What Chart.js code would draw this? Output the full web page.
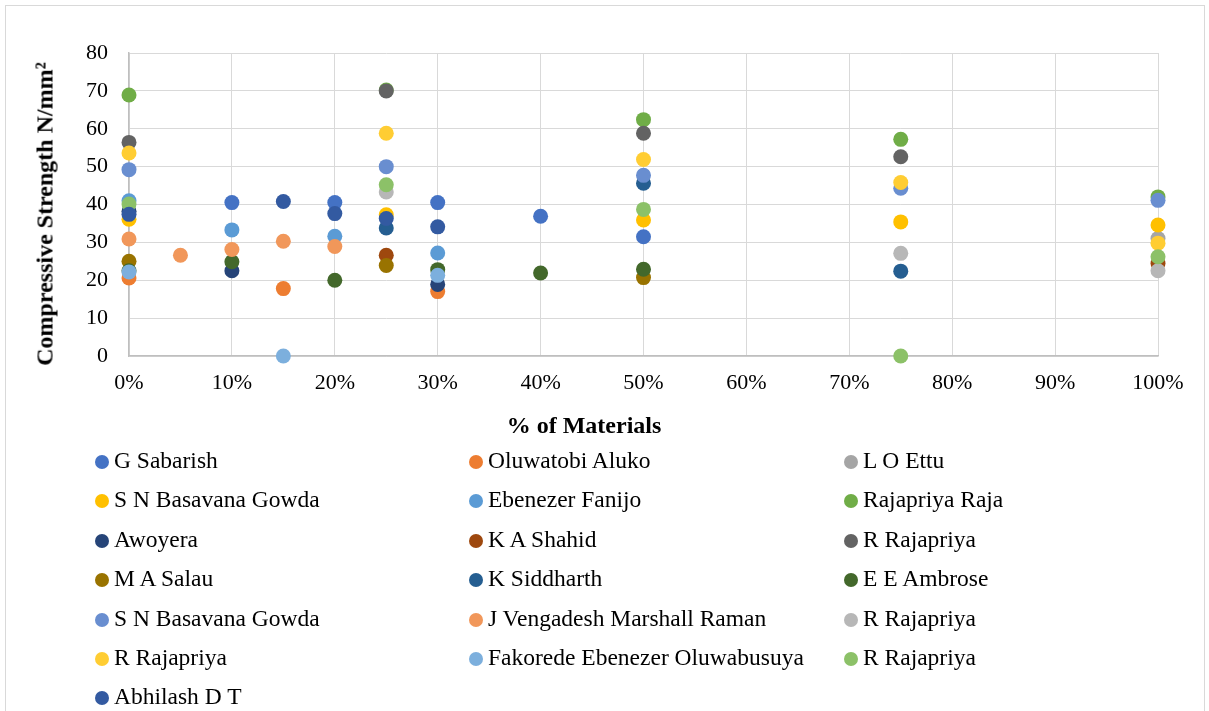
<!DOCTYPE html>
<html>
<head>
<meta charset="utf-8">
<title>Compressive Strength vs % of Materials</title>
<script src="https://cdn.jsdelivr.net/npm/chart.js@4.4.1/dist/chart.umd.min.js"></script>
<style>
  html, body { margin: 0; padding: 0; background: #fff; }
  #wrap { position: relative; width: 1209px; height: 711px; overflow: hidden; font-family: "Liberation Serif", "Times New Roman", serif; }
  #frame { position: absolute; left: 5px; top: 5px; width: 1198px; height: 730px; border: 1px solid #d9d9d9; }
  #chart { position: absolute; left: 0; top: 0; }
  .axis-title { position: absolute; font-weight: bold; font-size: 24px; color: #000; white-space: nowrap; }
  #xTitle { left: 584px; top: 425px; transform: translate(-50%, -50%); }
  #yTitle { left: 45px; top: 214px; transform: translate(-50%, -50%) rotate(-90deg); }
  .legend-item { position: absolute; height: 30px; line-height: 30px; font-size: 23.5px; color: #000; white-space: nowrap; }
  .legend-item i { display: inline-block; width: 14px; height: 14px; border-radius: 50%; margin-right: 5px; vertical-align: -1px; }
</style>
</head>
<body>
<div id="wrap">
  <div id="frame"></div>
  <canvas id="chart" width="1209" height="711"></canvas>
  <div class="axis-title" id="yTitle">Compressive Strength N/mm²</div>
  <div class="axis-title" id="xTitle">% of Materials</div>
  <div id="legend"></div>
</div>
<script>
// Series in the order they appear in the legend
const SERIES_NAMES = [
  'G Sabarish', 'Oluwatobi Aluko', 'L O Ettu',
  'S N Basavana Gowda', 'Ebenezer Fanijo', 'Rajapriya Raja',
  'Awoyera', 'K A Shahid', 'R Rajapriya',
  'M A Salau', 'K Siddharth', 'E E Ambrose',
  'S N Basavana Gowda', 'J Vengadesh Marshall Raman', 'R Rajapriya',
  'R Rajapriya', 'Fakorede Ebenezer Oluwabusuya', 'R Rajapriya',
  'Abhilash D T'
];

const SERIES_COLORS = [
  '#4472c4', '#ed7d31', '#a5a5a5',
  '#ffc000', '#5b9bd5', '#70ad47',
  '#264478', '#9e480e', '#636363',
  '#997300', '#255e91', '#43682b',
  '#698ed0', '#f1975a', '#b7b7b7',
  '#ffcd33', '#7cafdd', '#8cc168',
  '#335aa1'
];

// [% of material, compressive strength N/mm2]
const SERIES_POINTS = [
  [[10, 40.5], [20, 40.5], [30, 40.5], [40, 36.9], [50, 31.5]],
  [[0, 20.6], [15, 17.8], [30, 17]],
  [[100, 31]],
  [[0, 36.1], [25, 37.3], [50, 35.9], [75, 35.4], [100, 34.6]],
  [[0, 41], [10, 33.3], [20, 31.6], [30, 27.2]],
  [[0, 68.9], [25, 70.2], [50, 62.4], [75, 57.2], [100, 42]],
  [[0, 38.2], [10, 22.5], [30, 18.9]],
  [[25, 26.6], [100, 24.4]],
  [[0, 56.4], [25, 70], [50, 58.8], [75, 52.6]],
  [[0, 25], [25, 23.9], [50, 20.7]],
  [[25, 33.8], [50, 45.6], [75, 22.4]],
  [[0, 22.5], [10, 24.9], [20, 20], [30, 22.8], [40, 21.9], [50, 22.9]],
  [[0, 49.2], [25, 50], [50, 47.7], [75, 44.3], [100, 41.1]],
  [[0, 30.9], [5, 26.6], [10, 28.1], [15, 30.3], [20, 28.9]],
  [[25, 43.3], [75, 27.1], [100, 22.5]],
  [[0, 53.6], [25, 58.8], [50, 51.9], [75, 45.8], [100, 29.8]],
  [[0, 22.2], [15, 0], [30, 21.3]],
  [[0, 40.1], [25, 45.2], [50, 38.7], [75, 0], [100, 26.2]],
  [[0, 37.4], [15, 40.8], [20, 37.6], [25, 36.3], [30, 34.1]]
];

const X_TICKS = [0, 10, 20, 30, 40, 50, 60, 70, 80, 90, 100];
const Y_TICKS = [0, 10, 20, 30, 40, 50, 60, 70, 80];

const FONT = '"Liberation Serif", "Times New Roman", serif';

// later series sit on top, like the spreadsheet it came from
const datasets = SERIES_NAMES.map((name, i) => ({
  label: name,
  data: SERIES_POINTS[i].map(p => ({ x: p[0], y: p[1] })),
  backgroundColor: SERIES_COLORS[i],
  borderColor: SERIES_COLORS[i],
  pointRadius: 7.5,
  pointBorderWidth: 0,
  order: SERIES_NAMES.length - i,
  clip: false
}));

new Chart(document.getElementById('chart'), {
  type: 'scatter',
  data: { datasets },
  options: {
    responsive: false,
    animation: false,
    layout: { padding: { left: 0, top: 53, right: 51, bottom: 300 } },
    plugins: {
      legend: { display: false },
      tooltip: { enabled: false }
    },
    scales: {
      x: {
        type: 'linear',
        min: X_TICKS[0],
        max: X_TICKS[X_TICKS.length - 1],
        afterBuildTicks: (scale) => { scale.ticks = X_TICKS.map(v => ({ value: v })); },
        afterFit: (scale) => { scale.height = 55; },
        ticks: {
          padding: 14,
          color: '#000',
          font: { family: FONT, size: 22 },
          callback: (v) => v + '%'
        },
        grid: { color: '#d9d9d9', lineWidth: 1, drawTicks: false },
        border: { color: '#bfbfbf', width: 1.5 }
      },
      y: {
        min: Y_TICKS[0],
        max: Y_TICKS[Y_TICKS.length - 1],
        afterBuildTicks: (scale) => { scale.ticks = Y_TICKS.map(v => ({ value: v })); },
        afterFit: (scale) => { scale.width = 129; },
        ticks: {
          padding: 21,
          color: '#000',
          font: { family: FONT, size: 22 }
        },
        grid: { color: '#d9d9d9', lineWidth: 1, drawTicks: false },
        border: { color: '#bfbfbf', width: 1.5 }
      }
    }
  }
});

// Three-column legend below the plot
const legend = document.getElementById('legend');
const COL_X = [95, 469, 844];
const ROW_Y = 445;
const ROW_STEP = 39.4;
SERIES_NAMES.forEach((name, i) => {
  const item = document.createElement('div');
  item.className = 'legend-item';
  item.style.left = COL_X[i % 3] + 'px';
  item.style.top = (ROW_Y + Math.floor(i / 3) * ROW_STEP) + 'px';
  item.innerHTML = '<i style="background:' + SERIES_COLORS[i] + '"></i>';
  item.appendChild(document.createTextNode(name));
  legend.appendChild(item);
});
</script>
</body>
</html>
